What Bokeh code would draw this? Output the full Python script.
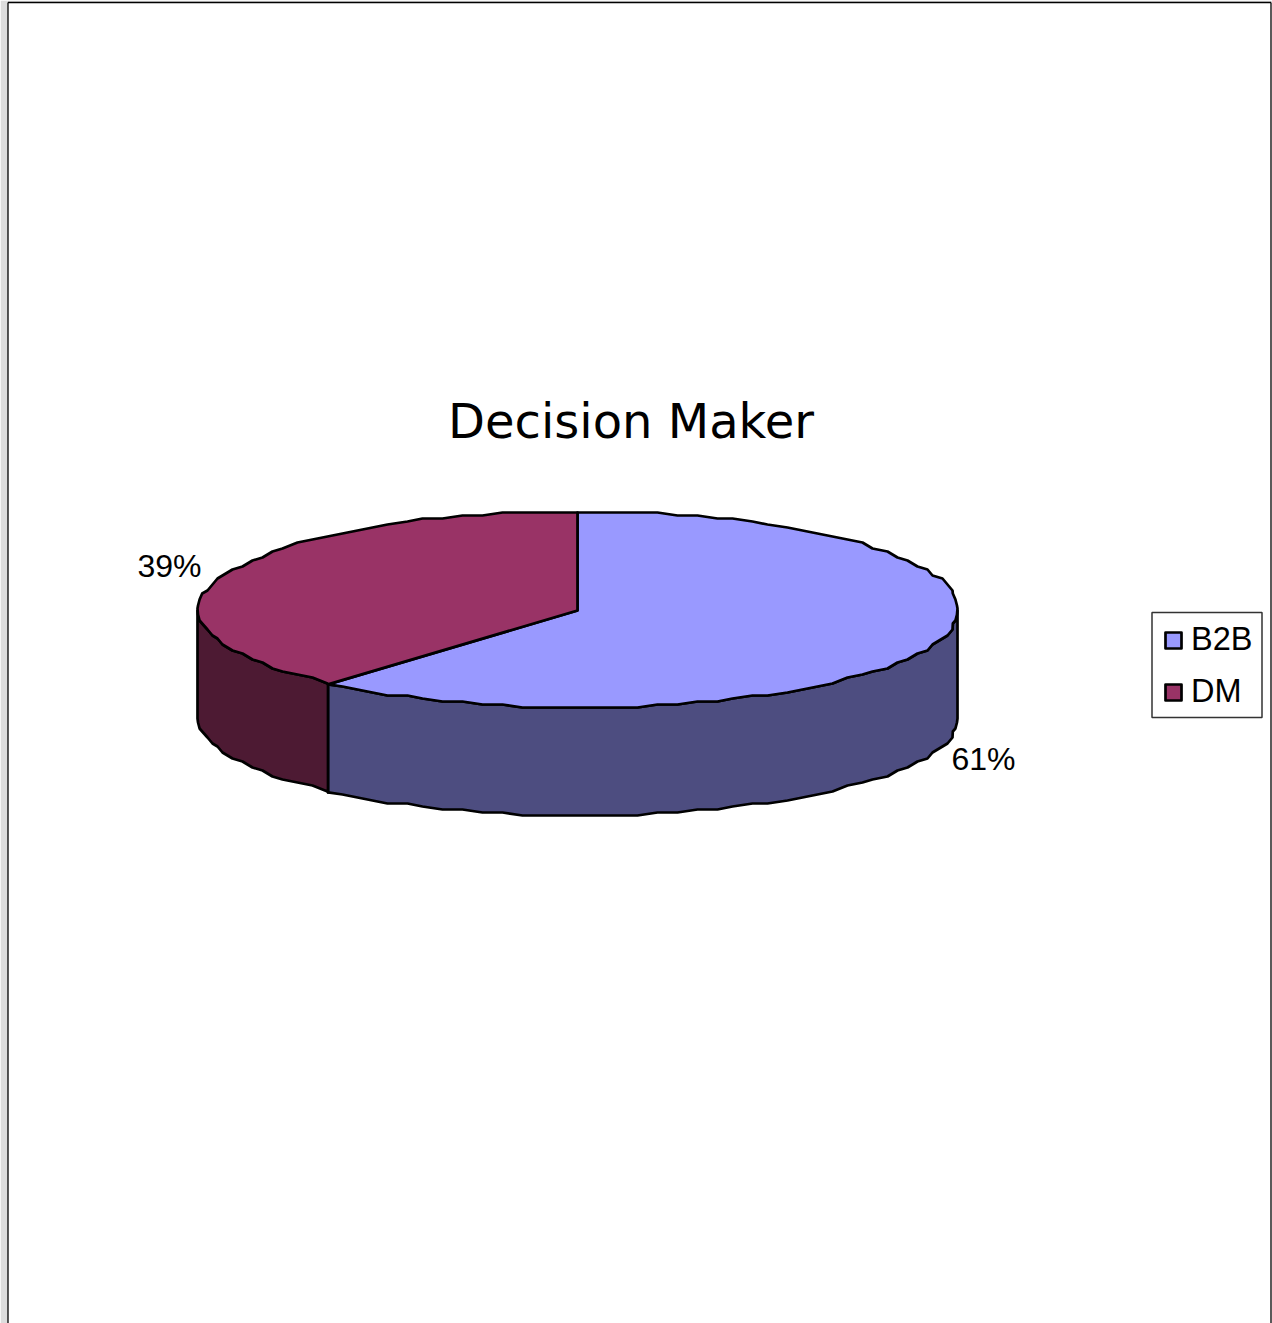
import numpy as np
from bokeh.plotting import figure
from bokeh.models import Range1d, Legend, LegendItem
from bokeh.core.properties import value
from bokeh.embed import file_html
from bokeh.resources import INLINE

TITLE = "Decision Maker"
categories = ["B2B", "DM"]
shares = [61.4, 38.6]
top_colors = ["#9999FF", "#993366"]
wall_colors = ["#4D4D80", "#4D1A33"]

W, H = 1272, 1323
CX, CY, RX, RY, DEPTH = 577.0, 608.0, 380.0, 98.0, 108.0
LABEL_POS = [(983, 758), (169, 565)]

# the rim is one table of points so lids and walls share exactly the same edge
_grid = np.radians(np.arange(0.0, 360.0, 3.0))
_gx = np.clip(np.round((CX + RX * np.sin(_grid)) / 5.0) * 5.0 + 2.0, CX - RX, CX + RX)
_gy = np.clip(np.round((CY + 2 - RY * np.cos(_grid)) / 3.0) * 3.0 - 1.0, CY + 2 - RY, CY + 2 + RY)
_side = np.abs(np.sin(_grid)) > 0.985
_gx[_side] = (CX + RX * np.sin(_grid))[_side]


def rim(a0, a1, dy=0.0):
    d = np.degrees(_grid)
    m = (d > a0) & (d < a1)
    ta, tb = np.radians(a0), np.radians(a1)
    x = np.r_[CX + RX * np.sin(ta), _gx[m], CX + RX * np.sin(tb)]
    y = np.r_[CY + 2 - RY * np.cos(ta), _gy[m], CY + 2 - RY * np.cos(tb)]
    return x, y + dy


p = figure(width=W, height=H, x_range=Range1d(0, W), y_range=Range1d(H, 0),
           toolbar_location=None, output_backend="svg", min_border=0,
           outline_line_color=None, background_fill_color="white",
           border_fill_color="white")
p.axis.visible = False
p.grid.visible = False

# page edge
p.patch([0, W, W, 7.5, 7.5, 0], [0, 0, 2, 2, H, H], color="#DDDDDD", line_color=None)
p.line([7.5, 7.5], [H, 2], line_color="black", line_width=1.3)
p.line([7.5, W - 1.5], [2, 2], line_color="black", line_width=1.3)
p.line([W - 1.5, W - 1.5], [2, H], line_color="black", line_width=1.3)

total = sum(shares)
edges = np.concatenate([[0.0], np.cumsum(shares) / total * 360.0])

# walls: the front half of the rim only
for i in range(len(shares)):
    a0, a1 = max(edges[i], 90.0), min(edges[i + 1], 270.0)
    xt, yt = rim(a0, a1)
    xb, yb = rim(a0, a1, DEPTH)
    p.patch(np.r_[xt, xb[::-1]], np.r_[yt, yb[::-1]], fill_color=wall_colors[i],
            line_color="black", line_width=2.7, line_join="round")

# lids
tops = []
for i in range(len(shares)):
    x, y = rim(edges[i], edges[i + 1])
    r = p.patch(np.r_[CX, x], np.r_[CY + 2, y], fill_color=top_colors[i],
                line_color="black", line_width=2.7, line_join="round")
    tops.append(r)

# percent labels
for v, (lx, ly) in zip(shares, LABEL_POS):
    p.text([lx], [ly], text=[f"{round(v)}%"], text_font=value("Liberation Sans"),
           text_font_size="32px", text_align="center", text_baseline="middle", text_color="black")

p.text([630.5], [420], text=[TITLE], text_font=value("DejaVu Sans"), text_font_size="48px",
       text_align="center", text_baseline="middle", text_color="black")

# legend box
p.quad(left=[1151.5], right=[1261.5], top=[612], bottom=[717], fill_color="white",
       line_color="#333333", line_width=1.5)
legend = Legend(items=[LegendItem(label=c, renderers=[r]) for c, r in zip(categories, tops)],
                location=(1163, H - 710), orientation="vertical",
                glyph_width=20, glyph_height=20, label_text_font="Liberation Sans",
                label_text_font_size="32.5px", label_text_color="black",
                label_standoff=8, spacing=15, padding=0, margin=0,
                border_line_color=None, background_fill_alpha=0.0)
p.add_layout(legend, "center")

open("out.html", "w").write(file_html(p, INLINE))
